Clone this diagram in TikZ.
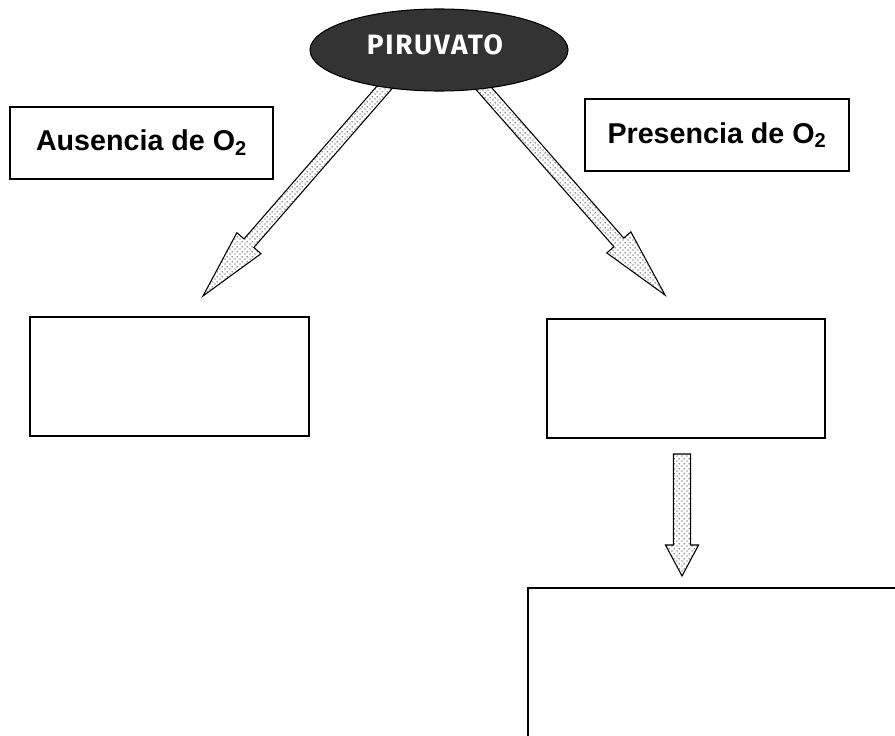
\documentclass[tikz,border=0pt]{standalone}
\usepackage{fontspec}
\setmainfont{Liberation Sans}
\newfontfamily\comicfont{Fira Sans}[LetterSpace=6]
\usetikzlibrary{shapes.geometric,patterns,calc,backgrounds}

\pgfdeclarepatternformonly{sparsedots}{\pgfpointorigin}{\pgfpoint{3.4pt}{3.4pt}}{\pgfpoint{3.4pt}{3.4pt}}{%
  \pgfpathcircle{\pgfpoint{0.85pt}{0.85pt}}{0.55pt}%
  \pgfpathcircle{\pgfpoint{2.55pt}{2.55pt}}{0.55pt}%
  \pgfusepath{fill}}

\newcommand{\fatarrow}[5]{%
  \coordinate (hb) at ($(#2)!#5!(#1)$);
  \filldraw[arrowfill] ($(#1)!#3!90:(#2)$) -- ($(hb)!#3!90:(#2)$) -- ($(hb)!#4!90:(#2)$) -- (#2)
    -- ($(hb)!#4!-90:(#2)$) -- ($(hb)!#3!-90:(#2)$) -- ($(#1)!#3!-90:(#2)$) -- cycle;}

\begin{document}
\begin{tikzpicture}[x=0.75pt,y=-0.75pt,
  box/.style={draw=black,line width=1.4pt,inner sep=0pt},
  boxtext/.style={font=\fontsize{21.5pt}{26pt}\selectfont\bfseries},
  arrowfill/.style={draw=black,line width=0.8pt,pattern=sparsedots,pattern color=black!85,line join=miter}]
\useasboundingbox (0,0) rectangle (895,735);
% pyruvate on top
\node[ellipse,draw=black,line width=0.8pt,fill=black!80,minimum width=193.5pt,minimum height=61.5pt,inner sep=0pt,
  text=white,font=\comicfont\bfseries\fontsize{21pt}{24pt}\selectfont] (piru) at (439,50) {\hspace*{-6pt}\raisebox{8pt}{PIRUVATO}};
% the boxes
\node[box,boxtext,minimum width=197.25pt,minimum height=54pt] (ausencia) at (141.5,143) {\raisebox{4pt}{Ausencia de O\textsubscript{2}}};
\node[box,boxtext,minimum width=198pt,minimum height=54pt] (presencia) at (717,135) {Presencia de O\textsubscript{2}};
\node[box,minimum width=209.25pt,minimum height=89.25pt] (anaerobio) at (169.5,376.5) {};
\node[box,minimum width=208.5pt,minimum height=89.25pt] (aerobio) at (686,378.5) {};
\node[box,minimum width=285pt,minimum height=120pt,anchor=north west] (ciclo) at (527,587) {};
% arrow ends
\coordinate (ltail) at (397,73);
\coordinate (ltip) at (203,296);
\coordinate (rtail) at (471,74);
\coordinate (rtip) at (665,295);
\coordinate (dtail) at (682,454);
\coordinate (dtip) at (682,576);
\begin{scope}[on background layer]
\fatarrow{ltail}{ltip}{4.9pt}{12pt}{52.5pt}
\fatarrow{rtail}{rtip}{4.9pt}{12pt}{52.5pt}
\fatarrow{dtail}{dtip}{6.4pt}{12.4pt}{23.25pt}
\end{scope}
\end{tikzpicture}
\end{document}
